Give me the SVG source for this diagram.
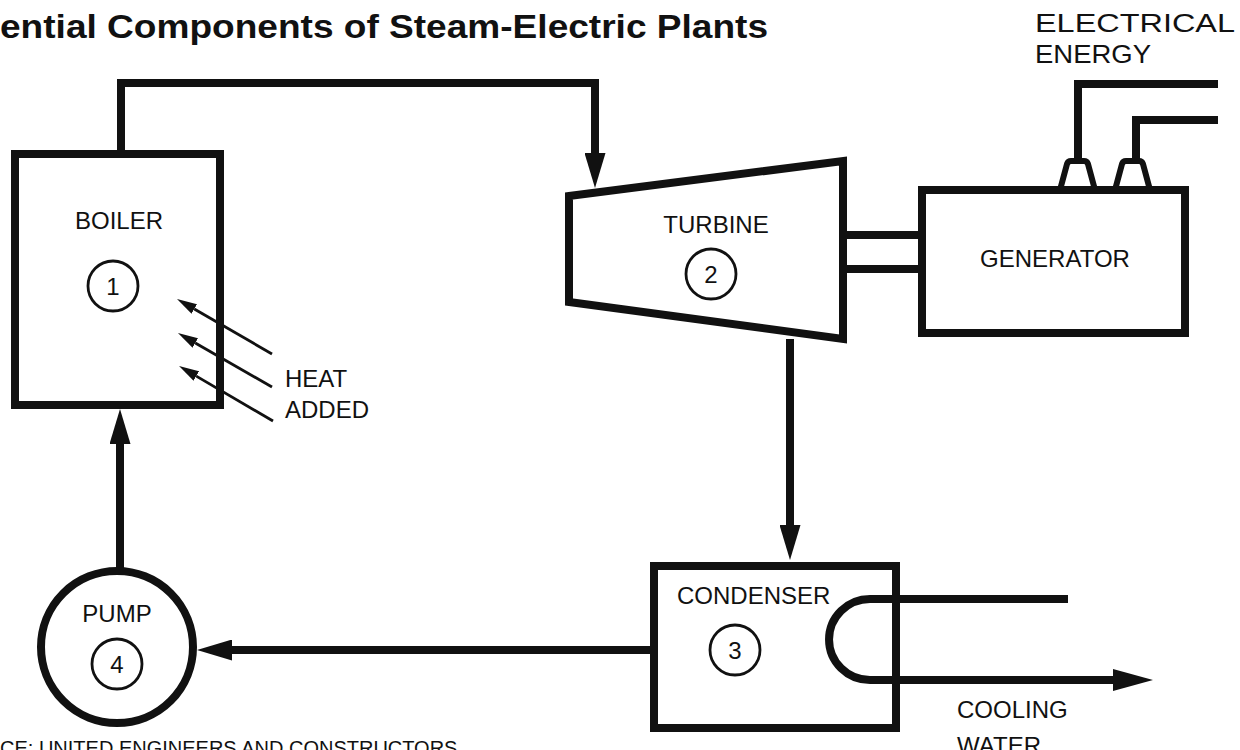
<svg xmlns="http://www.w3.org/2000/svg" width="1240" height="750" viewBox="0 0 1240 750">
<style>
.box{fill:none;stroke:#111;stroke-width:8;stroke-linejoin:miter}
.pipe{fill:none;stroke:#111;stroke-width:8;stroke-linejoin:miter}
.thin{fill:none;stroke:#111;stroke-width:2.8}
.term{fill:#fff;stroke:#111;stroke-width:6;stroke-linejoin:round}
.lbl{font-family:"Liberation Sans",Arial,sans-serif;font-size:24px;fill:#111}
.num{font-family:"Liberation Sans",Arial,sans-serif;font-size:24px;fill:#111;text-anchor:middle}
.title{font-family:"Liberation Sans",Arial,sans-serif;font-size:34px;font-weight:bold;fill:#111}
.src{font-family:"Liberation Sans",Arial,sans-serif;font-size:20px;fill:#111}
.elec{font-family:"Liberation Sans",Arial,sans-serif;font-size:25px;fill:#111}
</style>
<defs>
<marker id="arr" markerUnits="userSpaceOnUse" viewBox="0 0 35 21" markerWidth="35" markerHeight="21" refX="0" refY="10.5" orient="auto">
<path d="M0,0 L35,10.5 L0,21 Z" fill="#111"/>
</marker>
<marker id="arrL" markerUnits="userSpaceOnUse" viewBox="0 0 40 22" markerWidth="40" markerHeight="22" refX="0" refY="11" orient="auto">
<path d="M0,0 L40,11 L0,22 Z" fill="#111"/>
</marker>
<marker id="arrS" markerUnits="userSpaceOnUse" viewBox="0 0 20 11" markerWidth="20" markerHeight="11" refX="0" refY="5.5" orient="auto">
<path d="M0,0 L20,5.5 L0,11 Z" fill="#111"/>
</marker>
</defs>
<rect width="1240" height="750" fill="#fff"/>
<text class="title" x="0" y="38" textLength="768" lengthAdjust="spacingAndGlyphs">ential Components of Steam-Electric Plants</text>

<g id="connectors">
<path class="pipe" d="M121,154 V83 H595 V153" marker-end="url(#arr)"/>
<path class="pipe" d="M790,339 V525" marker-end="url(#arr)"/>
<path class="pipe" d="M650,650 H232" marker-end="url(#arr)"/>
<path class="pipe" d="M120,571 V444" marker-end="url(#arr)"/>
<path class="pipe" d="M843,235 H922 M843,269 H922"/>
<path class="pipe" d="M1078,161 V84 H1218 M1136,161 V120 H1218"/>
<path class="pipe" d="M1068,599 H870 A41,40.5 0 0 0 870,680 H1113" marker-end="url(#arrL)"/>
<path class="thin" d="M272,354 L194.3,309" marker-end="url(#arrS)"/>
<path class="thin" d="M272,387 L195.3,343" marker-end="url(#arrS)"/>
<path class="thin" d="M273,421 L196.3,376.1" marker-end="url(#arrS)"/>
</g>

<g id="boiler">
<rect class="box" x="15" y="154" width="205" height="251"/>
<text class="lbl" x="119" y="229" text-anchor="middle">BOILER</text>
<circle class="thin" cx="113" cy="286" r="25"/>
<text class="num" x="113" y="295">1</text>
</g>

<g id="heat">
<text class="lbl" x="285" y="387">HEAT</text>
<text class="lbl" x="285" y="418">ADDED</text>
</g>

<g id="turbine">
<polygon class="box" points="569,196 843,161 843,339 569,302"/>
<text class="lbl" x="716" y="233" text-anchor="middle">TURBINE</text>
<circle class="thin" cx="711" cy="274" r="25"/>
<text class="num" x="711" y="283">2</text>
</g>

<g id="generator">
<path class="term" d="M1060,190 L1067,164 Q1068,161 1071,161 H1084 Q1087,161 1088,164 L1095,190"/>
<path class="term" d="M1115,190 L1122,164 Q1123,161 1126,161 H1139 Q1142,161 1143,164 L1150,190"/>
<rect class="box" x="922" y="190" width="263" height="143"/>
<text class="lbl" x="1055" y="267" text-anchor="middle">GENERATOR</text>
</g>

<g id="electrical">
<text class="elec" x="1035" y="32" textLength="200" lengthAdjust="spacingAndGlyphs">ELECTRICAL</text>
<text class="elec" x="1035" y="63" textLength="116" lengthAdjust="spacingAndGlyphs">ENERGY</text>
</g>

<g id="condenser">
<rect class="box" x="654" y="566" width="242" height="162"/>
<text class="lbl" x="677" y="604">CONDENSER</text>
<circle class="thin" cx="735" cy="650" r="25"/>
<text class="num" x="735" y="659">3</text>
</g>

<g id="cooling">
<text class="lbl" x="957" y="718">COOLING</text>
<text class="lbl" x="957" y="754">WATER</text>
</g>

<g id="pump">
<circle class="box" cx="117" cy="647" r="76"/>
<text class="lbl" x="117" y="622" text-anchor="middle">PUMP</text>
<circle class="thin" cx="117" cy="664" r="25"/>
<text class="num" x="117" y="673">4</text>
</g>

<text class="src" x="0" y="755">CE: UNITED ENGINEERS AND CONSTRUCTORS</text>
</svg>
